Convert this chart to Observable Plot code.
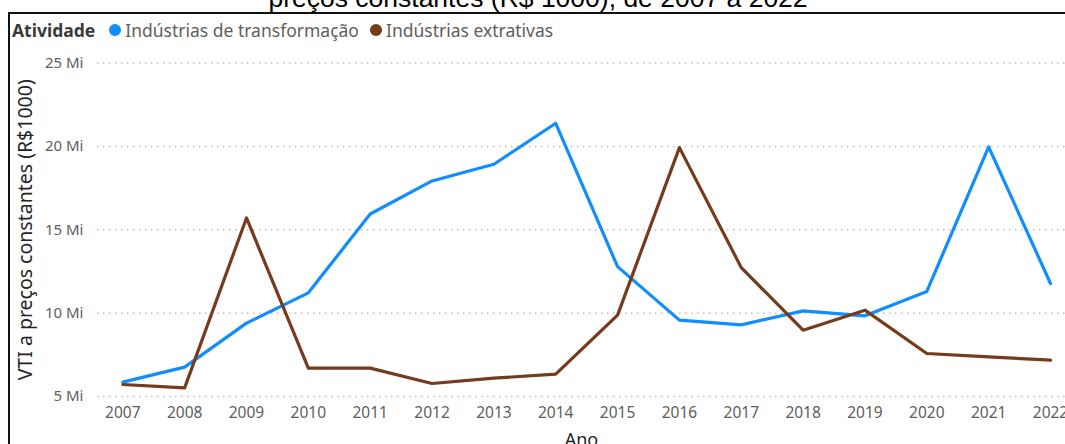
<!DOCTYPE html>
<html>
<head>
<meta charset="utf-8">
<script src="https://cdn.jsdelivr.net/npm/d3@7"></script>
<script src="https://cdn.jsdelivr.net/npm/@observablehq/plot@0.6"></script>
<style>
  html, body { margin: 0; padding: 0; background: #fff; }
  #wrap { position: relative; width: 1065px; height: 444px; overflow: hidden; background: #fff; }
  #title { position: absolute; left: 0; width: 1076px; top: -17px; text-align: center;
    font-family: "Liberation Sans", Arial, sans-serif; font-size: 26.5px; line-height: 30px; color: #000; white-space: nowrap; }
  #frame { position: absolute; left: 8px; top: 12px; width: 1100px; height: 500px;
    border-top: 2px solid #111; border-left: 2px solid #111; box-sizing: border-box; }
  #legend { position: absolute; left: 12px; top: 19px; font-family: "Noto Sans", sans-serif; font-size: 17.5px;
    color: #605E5C; white-space: nowrap; display: flex; align-items: center; line-height: 22px; }
  #legend .hd { font-weight: bold; color: #3a3a3a; margin-right: 14px; }
  #legend .dot { display: inline-block; width: 12px; height: 12px; border-radius: 50%; margin-right: 4px; }
  #legend .item { display: flex; align-items: center; margin-right: 11px; }
  #chart { position: absolute; left: 0; top: 40px; }
</style>
</head>
<body>
<div id="wrap">
  <div id="title"></div>
  <div id="frame"></div>
  <div id="chart"></div>
  <div id="legend"></div>
</div>
<script>
const titleText = "preços constantes (R$ 1000), de 2007 a 2022";
const legendTitle = "Atividade";
const years = [2007, 2008, 2009, 2010, 2011, 2012, 2013, 2014, 2015, 2016, 2017, 2018, 2019, 2020, 2021, 2022];
const seriesNames = ["Indústrias de transformação", "Indústrias extrativas"];
const seriesColors = ["#118DFF", "#763A1C"];
const transformacao = [5.86, 6.76, 9.4, 11.22, 15.95, 17.93, 18.93, 21.39, 12.79, 9.58, 9.3, 10.14, 9.84, 11.3, 19.97, 11.78];
const extrativas = [5.72, 5.52, 15.71, 6.7, 6.7, 5.78, 6.1, 6.34, 9.88, 19.93, 12.73, 8.98, 10.18, 7.58, 7.38, 7.18];
const yTicks = [5, 10, 15, 20, 25];
const yLabel = "VTI a preços constantes (R$1000)";
const xLabel = "Ano";

document.getElementById("title").textContent = titleText;

const legend = document.getElementById("legend");
const hd = document.createElement("span");
hd.className = "hd"; hd.textContent = legendTitle;
legend.appendChild(hd);
seriesNames.forEach((n, i) => {
  const it = document.createElement("span"); it.className = "item";
  const d = document.createElement("span"); d.className = "dot"; d.style.background = seriesColors[i];
  const t = document.createElement("span"); t.textContent = n;
  it.appendChild(d); it.appendChild(t); legend.appendChild(it);
});

const data = [];
years.forEach((y, i) => {
  data.push({ano: y, valor: transformacao[i], serie: seriesNames[0]});
  data.push({ano: y, valor: extrativas[i], serie: seriesNames[1]});
});

const chart = Plot.plot({
  width: 1065,
  height: 404,
  marginLeft: 97,
  marginRight: 0,
  marginTop: 22.6,
  marginBottom: 48,
  style: {fontFamily: "'Noto Sans', sans-serif", background: "transparent", overflow: "visible"},
  x: {domain: [2006.591, 2022.2425]},
  y: {domain: [5, 25]},
  color: {domain: seriesNames, range: seriesColors},
  marks: [
    Plot.gridY(yTicks, {stroke: "#bdbdbd", strokeOpacity: 1, strokeDasharray: "1.5,4.5", strokeWidth: 1.5}),
    Plot.axisY(yTicks, {tickSize: 0, tickPadding: 14, tickFormat: d => d + " Mi", fontSize: 15, fill: "#605E5C", label: null}),
    Plot.axisX(years, {tickSize: 0, tickPadding: 10, tickFormat: d => String(d), fontSize: 15.5, fill: "#605E5C", label: null}),
    Plot.text([yLabel], {frameAnchor: "left", dx: -72, rotate: -90, textAnchor: "middle", fontSize: 19.5, fill: "#252423"}),
    Plot.text([xLabel], {frameAnchor: "bottom", dy: 49, fontSize: 18, fill: "#252423"}),
    Plot.line(data, {x: "ano", y: "valor", z: "serie", stroke: "serie", strokeWidth: 3.2, strokeLinejoin: "round"})
  ]
});
document.getElementById("chart").appendChild(chart);
</script>
</body>
</html>
